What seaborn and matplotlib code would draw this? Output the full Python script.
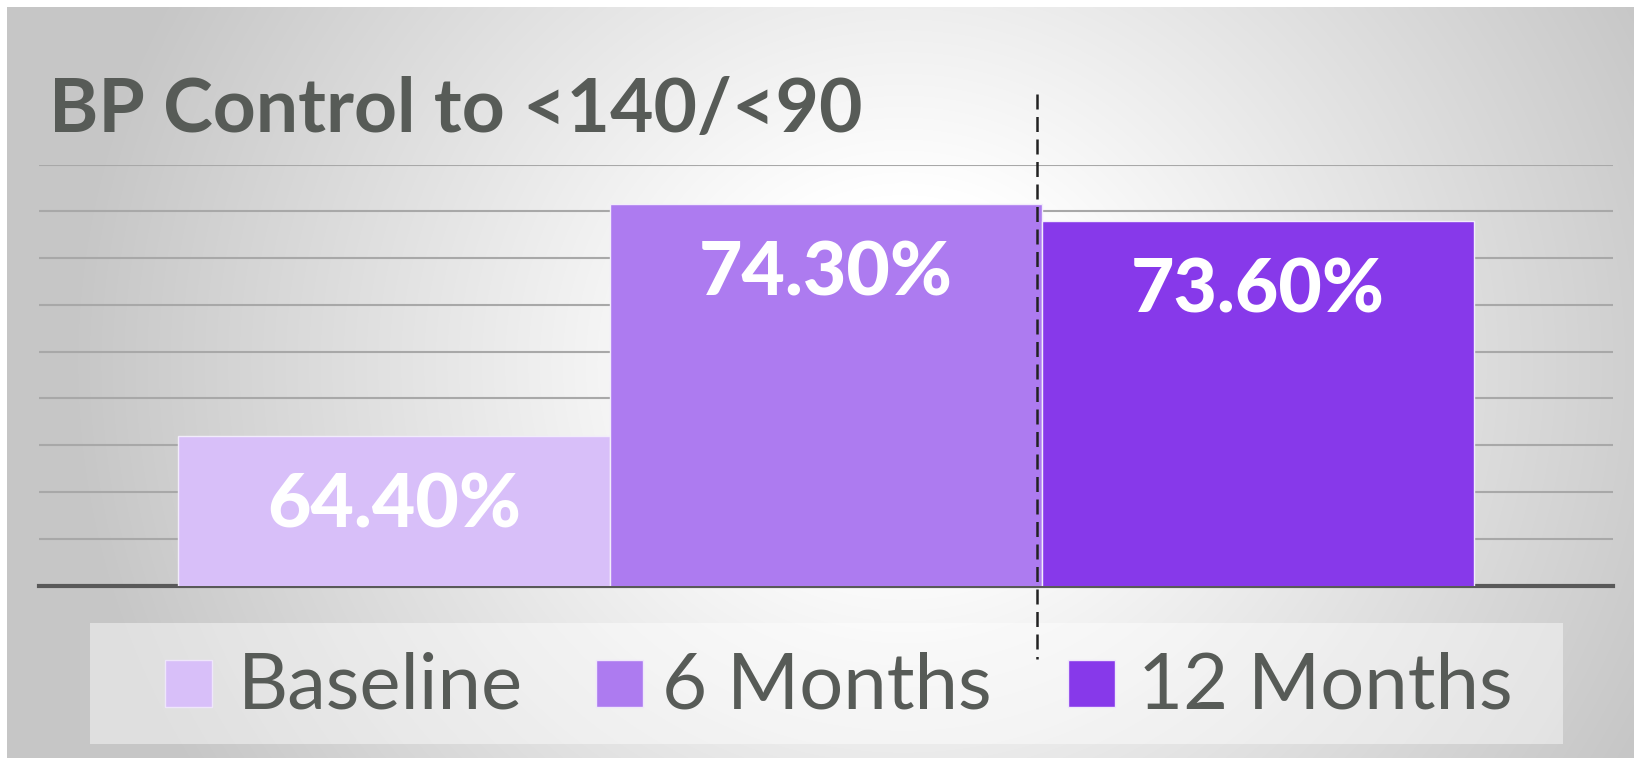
import numpy as np
import pandas as pd
import seaborn as sns
import matplotlib
matplotlib.use("Agg")
import matplotlib.pyplot as plt
from matplotlib.patches import Rectangle
from matplotlib.lines import Line2D

# ---- data ----
categories = ["Baseline", "6 Months", "12 Months"]
values = [64.4, 74.3, 73.6]
bar_colors = ["#D8BFF9", "#AD7BF0", "#8739EA"]
title = "BP Control to <140/<90"
y_min, y_max, y_step = 58, 76, 2

sns.set_theme(style="white")
plt.rcParams["font.family"] = ["Lato", "DejaVu Sans"]

W, H = 1634, 758
fig = plt.figure(figsize=(W / 100, H / 100), dpi=100)
fig.patch.set_facecolor("white")

# ---- radial gradient background ----
bg = fig.add_axes([7 / W, 0, 1 - 7 / W, 1 - 7 / H], zorder=0)
yy, xx = np.mgrid[0:H, 0:W]
cx, cy = 900, 360
r = np.hypot(xx - cx, (yy - cy) * 1.05)
v = np.interp(r, [180, 830], [1.0, 0.78])
img = np.dstack([v, v, v])
bg.imshow(img, aspect="auto", extent=[0, 1, 0, 1], origin="upper")
bg.set_axis_off()

# ---- main axes ----
left, right = 38.6 / W, 1613 / W
bottom, top = 1 - 585.6 / H, 1 - 164.6 / H
ax = fig.add_axes([left, bottom, right - left, top - bottom], zorder=2)
ax.set_facecolor("none")

df = pd.DataFrame({"cat": categories, "val": values})
sns.barplot(data=df, x="cat", y="val", hue="cat", palette=bar_colors,
            saturation=1, width=1.0, edgecolor="#f2ecfb", linewidth=1.0,
            legend=False, ax=ax, zorder=3)

ax.set_ylim(y_min, y_max)
ax.set_xlim(-0.823, 2.823)
ax.set_yticks(np.arange(y_min + y_step, y_max + 0.01, y_step))
ax.yaxis.grid(True, color="#a8a8a8", linewidth=1.5)
ax.xaxis.grid(False)
ax.set_axisbelow(True)
for s in ["top", "left", "right"]:
    ax.spines[s].set_visible(False)
ax.spines["bottom"].set_color("#595959")
ax.spines["bottom"].set_linewidth(3)
ax.tick_params(left=False, bottom=False, labelleft=False, labelbottom=False)
ax.set_xlabel("")
ax.set_ylabel("")

for i, val in enumerate(values):
    ax.annotate(f"{val:.2f}%", xy=(i, val), xytext=(0, -70),
                textcoords="offset pixels", ha="center", va="center",
                fontsize=54, fontweight="black", color="white", zorder=5)

# ---- title ----
fig.text(49 / W, 1 - 132 / H, title, ha="left", va="baseline",
         fontsize=54, fontweight="bold", color="#575B57", zorder=5)

# ---- legend (manual) ----
fig.patches.append(Rectangle((90 / W, 1 - 744 / H), (1563 - 90) / W, 121 / H,
                             transform=fig.transFigure, facecolor="white",
                             alpha=0.45, edgecolor="none", zorder=1))
marker_x = [165, 596, 1068]
text_x = [238, 662, 1138]
sq = 47
for mx, tx, lab, col in zip(marker_x, text_x, categories, bar_colors):
    fig.patches.append(Rectangle((mx / W, 1 - 706.5 / H), sq / W, sq / H,
                                 transform=fig.transFigure, facecolor=col,
                                 edgecolor="#efe6fb", linewidth=1.0, zorder=3))
    fig.text(tx / W, 1 - 708.6 / H, lab, ha="left", va="baseline",
             fontsize=56, color="#575B57", zorder=4)

# ---- dashed divider ----
fig.add_artist(Line2D([1037 / W, 1037 / W], [1 - 94 / H, 1 - 659 / H],
                      transform=fig.transFigure, color="#222222",
                      linewidth=1.8, linestyle=(0, (6, 3)), zorder=10))

fig.savefig("out.png", dpi=100)
